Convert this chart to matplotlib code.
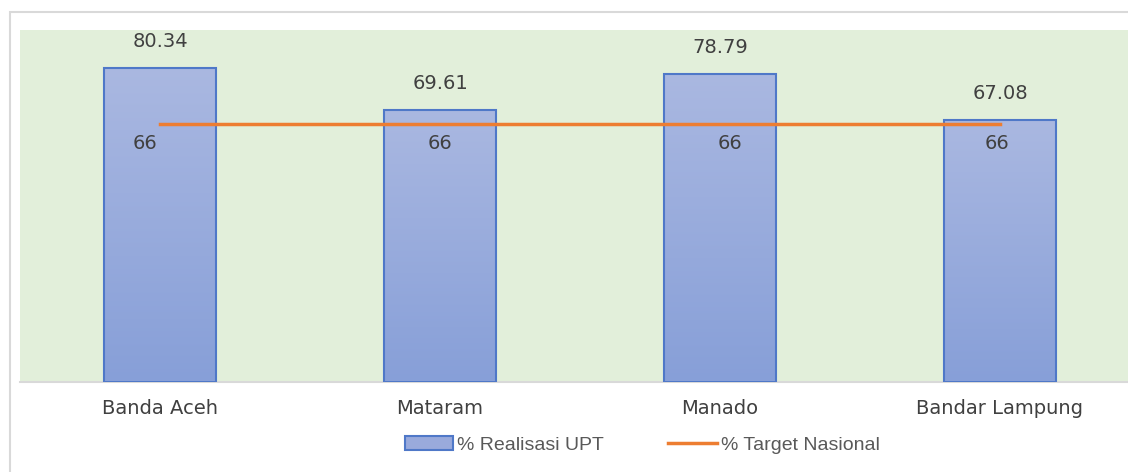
import numpy as np
import matplotlib.pyplot as plt
from matplotlib.patches import Patch, Rectangle
from matplotlib.lines import Line2D
from matplotlib.colors import LinearSegmentedColormap

# data
kota = ['Banda Aceh', 'Mataram', 'Manado', 'Bandar Lampung']
realisasi = [80.34, 69.61, 78.79, 67.08]
target = [66, 66, 66, 66]

bar_top = '#aab8e1'
bar_bot = '#879fd8'
edge = '#4f78c8'
orange = '#ed7d31'
txt = '#404040'

fig = plt.figure(figsize=(11.28, 4.72), dpi=100)
# outer chart border (cut by the image on the right)
fig.patches.append(Rectangle((10 / 1128, -0.1), 1.2, (472 - 12) / 472 + 0.1,
                             transform=fig.transFigure, fill=False,
                             edgecolor='#d9d9d9', lw=1.5))

ax = fig.add_axes([20 / 1128, 90 / 472, 1120 / 1128, 352 / 472])
ax.set_facecolor('#e2efda')
x = np.arange(len(kota))

bars = ax.bar(x, realisasi, width=0.4, color='none', edgecolor=edge, lw=1.5, zorder=3)
grad = np.linspace(0, 1, 256).reshape(-1, 1)
cmap = LinearSegmentedColormap.from_list('g', [bar_bot, bar_top])
for b in bars:
    im = ax.imshow(grad, cmap=cmap, origin='lower', aspect='auto', zorder=2,
                   extent=[b.get_x(), b.get_x() + b.get_width(), 0, b.get_height()])
    im.set_clip_path(b)
ax.set_xlim(-0.5, 3.5)
ax.set_ylim(0, 90)

ax.plot(x, target, color=orange, lw=2.5, zorder=4)

for i, v in enumerate(realisasi):
    ax.annotate(f'{v:.2f}', (x[i], v), xytext=(0, 19), textcoords='offset points',
                ha='center', va='center', fontsize=14, color=txt)
off66 = [-11, 0, 7, -2]
for i, v in enumerate(target):
    ax.annotate(f'{v}', (x[i], v), xytext=(off66[i], -14), textcoords='offset points',
                ha='center', va='center', fontsize=14, color=txt)

ax.set_xticks(x)
ax.set_xticklabels(kota, fontsize=14, color=txt)
ax.tick_params(axis='x', length=0, pad=12)
ax.set_yticks([])
for s in ['top', 'right', 'left']:
    ax.spines[s].set_visible(False)
ax.spines['bottom'].set_color('#d9d9d9')
ax.spines['bottom'].set_linewidth(1.5)

handles = [Patch(facecolor='#99aadc', edgecolor=edge, lw=1.5),
           Line2D([], [], color=orange, lw=2.5)]
fig.legend(handles, ['% Realisasi UPT', '% Target Nasional'], loc='center',
           bbox_to_anchor=(642 / 1128, 27 / 472), ncol=2, frameon=False,
           prop={'family': 'Liberation Sans', 'size': 14}, labelcolor='#595959',
           handlelength=2.5, handleheight=0.7, handletextpad=0.2, columnspacing=3.3)

plt.savefig('out.png', dpi=100)
